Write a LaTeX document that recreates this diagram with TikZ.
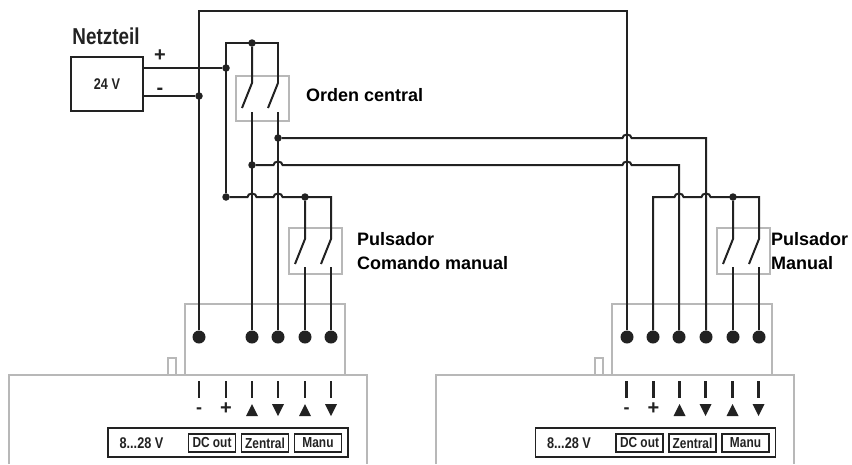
\documentclass[tikz,border=0pt]{standalone}
\usepackage{fontspec}
\setmainfont{Liberation Sans}
\newfontfamily\narrowf[FakeStretch=0.82]{Liberation Sans}
\definecolor{ink}{HTML}{222222}
\definecolor{frame}{HTML}{B8B8B8}
\tikzset{
  wire/.style={draw=ink,line width=2pt,line join=miter},
  thickwire/.style={draw=ink,line width=2.4pt,line join=miter},
  graybox/.style={draw=frame,line width=2pt},
  junction/.style={circle,fill=ink,inner sep=0pt,minimum size=7.5pt},
  terminal/.style={circle,fill=ink,inner sep=0pt,minimum size=13pt},
  label/.style={font=\bfseries\fontsize{18}{20}\selectfont,text=black,anchor=west,inner sep=0pt,align=left},
  cond/.style={font=\narrowf\bfseries\fontsize{15.5}{17}\selectfont,text=ink,inner sep=0pt},
  tick/.style={draw=ink,line width=2.2pt},
  innerbox/.style={draw=ink,line width=1.4pt,inner sep=0pt,minimum height=18pt},
  blackbox/.style={draw=ink,line width=1.6pt},
}
\newcommand{\hopto}{ arc[start angle=180,end angle=360,x radius=4.5,y radius=3.5] }
\begin{document}
\begin{tikzpicture}[x=1pt,y=-1pt]
\useasboundingbox (0,0) rectangle (852,464);
\fill[white] (0,0) rectangle (852,464);

% grey housings
\foreach \dx in {0,427}{
  \begin{scope}[xshift=\dx pt]
    \draw[graybox] (185,375) -- (185,304) -- (345,304) -- (345,375);
    \draw[graybox] (168,375) -- (168,358) -- (176,358) -- (176,375);
  \end{scope}
}
\draw[graybox] (9,464) -- (9,375) -- (367,375) -- (367,464);
\draw[graybox] (436,464) -- (436,375) -- (794,375) -- (794,464);
\draw[graybox] (236,76) rectangle (289,121);
\draw[graybox] (289,228) rectangle (342,274);
\draw[graybox] (717,228) rectangle (770,274);

% power supply
\node[draw=ink,line width=2pt,minimum width=72pt,minimum height=54pt,inner sep=0pt] (psu) at (107,84) {};
\node[cond] at (107,84) {24 V};
\node[cond,font=\narrowf\bfseries\fontsize{23}{25}\selectfont] at (106,36) {Netzteil};
\node[font=\bfseries\fontsize{20}{20}\selectfont,inner sep=0pt,text=ink] at (160,56) {+};
\node[font=\bfseries\fontsize{20}{20}\selectfont,inner sep=0pt,text=ink] at (160,91) {-};

% labels
\node[label] at (306,95) {Orden central};
\node[label] at (357,239) {Pulsador};
\node[label] at (357,263) {Comando manual};
\node[label] at (771,239) {Pulsador};
\node[label] at (771,263) {Manual};

% terminals
\foreach \x/\n in {199/ta,252/tc,278/td,305/te,331/tf,627/ua,653/ub,679/uc,706/ud,733/ue,759/uf}
  \node[terminal] (\n) at (\x,337) {};

% junctions
\node[junction] (jplus) at (226,68) {};
\node[junction] (jminus) at (199,96) {};
\node[junction] (jtop) at (252,43) {};
\node[junction] (jdown) at (278,138) {};
\node[junction] (jup) at (252,165) {};
\node[junction] (jbus) at (226,197) {};
\node[junction] (jman) at (305,197) {};
\node[junction] (jman2) at (733,197) {};

% supply wires
\draw[thickwire] (ta) -- (199,11) -- (627,11) -- (ua);
\draw[wire] (143,68) -- (jplus);
\draw[wire] (143,96) -- (jminus);
\draw[wire] (jbus) -- (226,43) -- (278,43) -- (278,83);

% central switch
\draw[wire] (jtop) -- (252,83) -- (242,108);
\draw[wire] (278,83) -- (268,108);
\draw[wire] (252,112) -- (tc);
\draw[wire] (278,112) -- (td);

% crossing wires with hops
\draw[wire] (jdown) -- (622.5,138) \hopto -- (706,138) -- (ud);
\draw[wire] (jup) -- (273.5,165) \hopto -- (622.5,165) \hopto -- (679,165) -- (uc);
\draw[wire] (jbus) -- (247.5,197) \hopto -- (273.5,197) \hopto -- (331,197) -- (331,239) -- (321,264);
\draw[wire] (ub) -- (653,197) -- (674.5,197) \hopto -- (701.5,197) \hopto -- (759,197) -- (759,239) -- (749,264);

% manual switches
\draw[wire] (jman) -- (305,239) -- (295,264);
\draw[wire] (305,267) -- (te);
\draw[wire] (331,267) -- (tf);
\draw[wire] (jman2) -- (733,239) -- (723,264);
\draw[wire] (733,267) -- (ue);
\draw[wire] (759,267) -- (uf);

% device fronts
\foreach \dx in {0,427.5}{
  \begin{scope}[xshift=\dx pt]
    \foreach \x in {199,226,252,278,305,331}
      \draw[tick] (\x,381) -- (\x,398);
    \node[font=\bfseries\fontsize{18}{18}\selectfont,inner sep=0pt,text=ink] at (199,411) {-};
    \node[font=\bfseries\fontsize{20}{20}\selectfont,inner sep=0pt,text=ink] at (226,409) {+};
    \fill[ink] (246,416) -- (258,416) -- (252,404) -- cycle;
    \fill[ink] (272,404) -- (284,404) -- (278,416) -- cycle;
    \fill[ink] (299,416) -- (311,416) -- (305,404) -- cycle;
    \fill[ink] (325,404) -- (337,404) -- (331,416) -- cycle;
    \draw[blackbox] (108,428) rectangle (348,457);
    \node[cond] at (141.5,443) {8...28 V};
    \node[innerbox,cond,minimum width=47pt,font=\narrowf\bfseries\fontsize{14.5}{16}\selectfont] at (212,443) {DC out};
    \node[innerbox,cond,minimum width=47pt,font=\narrowf\bfseries\fontsize{14.5}{16}\selectfont] at (265,443) {Zentral};
    \node[innerbox,cond,minimum width=47pt,font=\narrowf\bfseries\fontsize{14.5}{16}\selectfont] at (318,443) {Manu};
  \end{scope}
}
\end{tikzpicture}
\end{document}
